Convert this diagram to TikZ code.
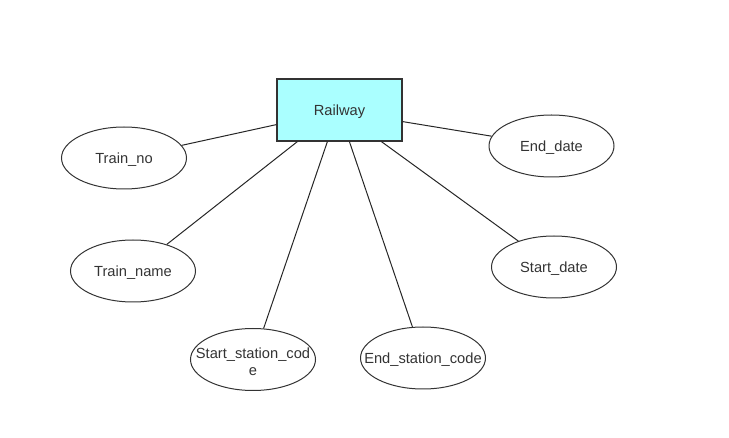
\documentclass[tikz,border=0pt]{standalone}
\usepackage{fontspec}
\setmainfont{Liberation Sans}
\usetikzlibrary{shapes.geometric}
\definecolor{entfill}{HTML}{AAFFFF}
\definecolor{txt}{HTML}{333333}
\tikzset{
  px/.style={x=0.75pt,y=-0.75pt},
  lbl/.style={font=\fontsize{11}{12.75}\selectfont,text=txt,align=center,inner sep=0pt},
  entity/.style={draw=black!80,fill=entfill,line width=0.9pt,minimum width=125*0.75pt,minimum height=62*0.75pt,inner sep=0pt},
  attr/.style={ellipse,draw=black!80,line width=0.75pt,minimum width=125*0.75pt,minimum height=62*0.75pt,inner sep=0pt,label={[lbl,yshift=-1.5pt]center:#1}},
  link/.style={draw=black!85,line width=0.75pt}
}
\begin{document}
\begin{tikzpicture}[px]
\useasboundingbox (0,0) rectangle (729,438);
\node[entity,label={[lbl,yshift=-1.5pt]center:Railway}] (r) at (339.5,110) {};
\node[attr={Train\_no}] (tno) at (124,158) {};
\node[attr={Train\_name}] (tname) at (133,271) {};
\node[attr={Start\_station\_cod\\e}] (ssc) at (253,359.5) {};
\node[attr={End\_station\_code}] (esc) at (423,358) {};
\node[attr={Start\_date}] (sd) at (554,267) {};
\node[attr={End\_date}] (ed) at (551.5,146) {};
\coordinate (pl) at ([yshift=17*0.75pt]r.south west);
\coordinate (pr) at ([yshift=20*0.75pt]r.south east);
\coordinate (b1) at ([xshift=21*0.75pt]r.south west);
\coordinate (b2) at ([xshift=51*0.75pt]r.south west);
\coordinate (b3) at ([xshift=73*0.75pt]r.south west);
\coordinate (b4) at ([xshift=105*0.75pt]r.south west);
\draw[link] (pl) -- (tno);
\draw[link] (b1) -- (tname);
\draw[link] (b2) -- (ssc);
\draw[link] (b3) -- (esc);
\draw[link] (b4) -- (sd);
\draw[link] (pr) -- (ed);
\end{tikzpicture}
\end{document}
